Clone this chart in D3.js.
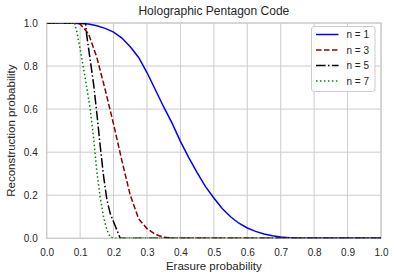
<!DOCTYPE html>
<html>
<head>
<meta charset="utf-8">
<script src="https://cdn.jsdelivr.net/npm/d3@7"></script>
<style>
  body { margin: 0; background: #fff; }
  text { font-family: "Liberation Sans", Arial, sans-serif; fill: #262626; }
</style>
</head>
<body>
<script>
// erasure probability / reconstruction probability per series
var n1P = [0, 0.05, 0.1, 0.125, 0.15, 0.175, 0.2, 0.225, 0.25, 0.275, 0.3, 0.325, 0.35, 0.375, 0.4, 0.425, 0.45, 0.475, 0.5, 0.525, 0.55, 0.575, 0.6, 0.625, 0.65, 0.675, 0.7, 0.725, 0.75, 0.8, 0.9, 1.0];
var n1R = [1, 1, 0.998, 0.995, 0.987, 0.975, 0.958, 0.93, 0.89, 0.84, 0.77, 0.69, 0.61, 0.535, 0.45, 0.375, 0.305, 0.24, 0.187, 0.138, 0.10, 0.07, 0.048, 0.032, 0.02, 0.012, 0.006, 0.003, 0.001, 0, 0, 0];

var n3P = [0, 0.05, 0.075, 0.1, 0.125, 0.15, 0.175, 0.2, 0.225, 0.25, 0.275, 0.3, 0.325, 0.35, 0.375, 0.4, 0.5, 0.6, 0.7, 0.8, 0.9, 1.0];
var n3R = [1, 1, 1, 0.995, 0.95, 0.84, 0.69, 0.53, 0.36, 0.2, 0.09, 0.045, 0.018, 0.005, 0.001, 0, 0, 0, 0, 0, 0, 0];

var n5P = [0, 0.05, 0.1, 0.116, 0.12, 0.13, 0.14, 0.15, 0.16, 0.17, 0.18, 0.19, 0.22, 0.3, 0.4, 0.5, 0.6, 0.7, 0.8, 0.9, 1.0];
var n5R = [1, 1, 1, 1, 0.94, 0.83, 0.72, 0.58, 0.43, 0.29, 0.18, 0.115, 0, 0, 0, 0, 0, 0, 0, 0, 0];

var n7P = [0, 0.05, 0.083, 0.09, 0.1, 0.11, 0.12, 0.13, 0.14, 0.15, 0.16, 0.17, 0.18, 0.19, 0.2, 0.3, 0.4, 0.5, 0.6, 0.7, 0.8, 0.9, 1.0];
var n7R = [1, 1, 1, 0.96, 0.88, 0.79, 0.7, 0.6, 0.47, 0.31, 0.19, 0.1, 0.04, 0.006, 0, 0, 0, 0, 0, 0, 0, 0, 0];

var seriesLabels = ["n = 1", "n = 3", "n = 5", "n = 7"];
var xTicks = [0, 0.1, 0.2, 0.3, 0.4, 0.5, 0.6, 0.7, 0.8, 0.9, 1.0];
var yTicks = [0, 0.2, 0.4, 0.6, 0.8, 1.0];

var width = 395,
    height = 279,
    margin = {top: 23, right: 14, bottom: 40.7, left: 46.7};

var svg = d3.select("body")
    .append("svg")
    .attr("width", width)
    .attr("height", height);

var x = d3.scaleLinear().domain([0, 1]).range([margin.left, width - margin.right]);
var y = d3.scaleLinear().domain([0, 1]).range([height - margin.bottom, margin.top]);

//grid lines
svg.append("g")
    .selectAll("line")
    .data(xTicks)
    .enter()
    .append("line")
    .attr("x1", function(d){ return x(d); })
    .attr("x2", function(d){ return x(d); })
    .attr("y1", y(0))
    .attr("y2", y(1))
    .attr("stroke", "#cccccc")
    .attr("stroke-width", 1);

svg.append("g")
    .selectAll("line")
    .data(yTicks)
    .enter()
    .append("line")
    .attr("x1", x(0))
    .attr("x2", x(1))
    .attr("y1", function(d){ return y(d); })
    .attr("y2", function(d){ return y(d); })
    .attr("stroke", "#cccccc")
    .attr("stroke-width", 1);

//axes frame
svg.append("rect")
    .attr("x", x(0))
    .attr("y", y(1))
    .attr("width", x(1) - x(0))
    .attr("height", y(0) - y(1))
    .attr("fill", "none")
    .attr("stroke", "#cccccc")
    .attr("stroke-width", 1.25);

//tick labels through d3 axes (no tick marks)
var xAxis = svg.append("g")
    .attr("transform", "translate(0," + y(0) + ")")
    .call(d3.axisBottom(x).tickValues(xTicks).tickFormat(d3.format(".1f")).tickSize(0).tickPadding(11));
var yAxis = svg.append("g")
    .attr("transform", "translate(" + x(0) + ",0)")
    .call(d3.axisLeft(y).tickValues(yTicks).tickFormat(d3.format(".1f")).tickSize(0).tickPadding(9));
[xAxis, yAxis].forEach(function(a){
    a.select(".domain").remove();
    a.selectAll("text")
        .attr("font-size", 10)
        .attr("font-family", "Liberation Sans, Arial, sans-serif")
        .attr("fill", "#333333");
});

//clip to the axes box
svg.append("clipPath")
    .attr("id", "plotclip")
    .append("rect")
    .attr("x", x(0))
    .attr("y", y(1))
    .attr("width", x(1) - x(0))
    .attr("height", y(0) - y(1));

var series = [
    {p: n1P, r: n1R, color: "#0000ff", dash: null},
    {p: n3P, r: n3R, color: "#8b0000", dash: "5.55,2.4"},
    {p: n5P, r: n5R, color: "#000000", dash: "9.6,2.4,1.5,2.4"},
    {p: n7P, r: n7R, color: "#008000", dash: "1.5,2.475"}
];

var line = d3.line()
    .x(function(d){ return x(d[0]); })
    .y(function(d){ return y(d[1]); });

svg.append("g")
    .attr("clip-path", "url(#plotclip)")
    .selectAll("path")
    .data(series)
    .enter()
    .append("path")
    .attr("d", function(s){ return line(d3.zip(s.p, s.r)); })
    .attr("fill", "none")
    .attr("stroke", function(s){ return s.color; })
    .attr("stroke-width", 1.5)
    .attr("stroke-dasharray", function(s){ return s.dash; });

//title and axis labels
svg.append("text")
    .attr("x", (x(0) + x(1)) / 2)
    .attr("y", 15)
    .attr("text-anchor", "middle")
    .attr("font-size", 12)
    .text("Holographic Pentagon Code");

svg.append("text")
    .attr("x", (x(0) + x(1)) / 2)
    .attr("y", 269.5)
    .attr("text-anchor", "middle")
    .attr("font-size", 11.5)
    .text("Erasure probability");

svg.append("text")
    .attr("transform", "translate(14.5," + ((y(0) + y(1)) / 2) + ") rotate(-90)")
    .attr("text-anchor", "middle")
    .attr("font-size", 11.5)
    .text("Reconstruction probability");

//legend
var legend = svg.append("g").attr("transform", "translate(311.5,26.5)");
legend.append("rect")
    .attr("width", 63.5)
    .attr("height", 65)
    .attr("rx", 2.5)
    .attr("fill", "#ffffff")
    .attr("fill-opacity", 0.8)
    .attr("stroke", "#cccccc")
    .attr("stroke-width", 1);

var items = legend.selectAll(".item")
    .data(series)
    .enter()
    .append("g")
    .attr("class", "item")
    .attr("transform", function(d, i){ return "translate(0," + (8 + i * 15.5) + ")"; });

items.append("line")
    .attr("x1", 4.5)
    .attr("x2", 27)
    .attr("y1", 0)
    .attr("y2", 0)
    .attr("stroke", function(s){ return s.color; })
    .attr("stroke-width", 1.5)
    .attr("stroke-dasharray", function(s){ return s.dash; });

items.append("text")
    .attr("x", 35)
    .attr("y", 3.6)
    .attr("font-size", 10)
    .text(function(d, i){ return seriesLabels[i]; });
</script>
</body>
</html>
